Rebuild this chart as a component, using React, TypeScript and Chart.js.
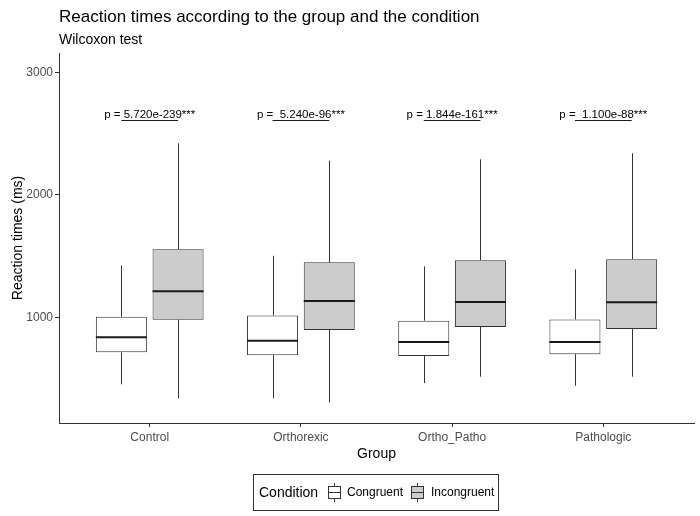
import React, { useEffect, useRef } from 'react';
import { Chart, registerables } from 'chart.js';
Chart.register(...registerables);

const groups = ['Control', 'Orthorexic', 'Ortho_Patho', 'Pathologic'];
const conditions = ['Congruent', 'Incongruent'];

const congruentMin = [457, 343, 467, 446];
const congruentQ1 = [718, 695, 688, 703];
const congruentMedian = [840, 812, 802, 802];
const congruentQ3 = [1008, 1018, 976, 986];
const congruentMax = [1426, 1505, 1418, 1393];

const incongruentMin = [343, 310, 519, 519];
const incongruentQ1 = [984, 900, 924, 907];
const incongruentMedian = [1215, 1136, 1128, 1125];
const incongruentQ3 = [1557, 1451, 1468, 1476];
const incongruentMax = [2421, 2280, 2291, 2340];

const pValues = ['5.720e-239', ' 5.240e-96', '1.844e-161', ' 1.100e-88'];
const pStars = ['***', '***', '***', '***'];
const pBracketY = 2611;

const yTicks = [1000, 2000, 3000];
const yMin = 142;
const yMax = 3157;

const titleText = 'Reaction times according to the group and the condition';
const subtitleText = 'Wilcoxon test';

const FONT = "'Liberation Sans', Arial, sans-serif";
const fillColors = ['#ffffff', '#cccccc'];
const stats = [
  { min: congruentMin, q1: congruentQ1, med: congruentMedian, q3: congruentQ3, max: congruentMax },
  { min: incongruentMin, q1: incongruentQ1, med: incongruentMedian, q3: incongruentQ3, max: incongruentMax },
];

const boxPlugin = {
  id: 'boxExtras',
  afterDatasetsDraw(chart: any) {
    const ctx = chart.ctx;
    const y = chart.scales.y;
    ctx.save();
    stats.forEach((s, di) => {
      const meta = chart.getDatasetMeta(di);
      meta.data.forEach((el: any, j: number) => {
        const x = Math.round(el.x) + 0.5;
        const w = el.width;
        ctx.strokeStyle = '#333333';
        ctx.lineWidth = 1;
        ctx.beginPath();
        ctx.moveTo(x, y.getPixelForValue(s.q3[j]));
        ctx.lineTo(x, y.getPixelForValue(s.max[j]));
        ctx.moveTo(x, y.getPixelForValue(s.q1[j]));
        ctx.lineTo(x, y.getPixelForValue(s.min[j]));
        ctx.stroke();
        ctx.strokeStyle = '#1a1a1a';
        ctx.lineWidth = 2;
        ctx.beginPath();
        const my = y.getPixelForValue(s.med[j]);
        ctx.moveTo(el.x - w / 2, my);
        ctx.lineTo(el.x + w / 2, my);
        ctx.stroke();
      });
    });
    // p-value brackets
    const m0 = chart.getDatasetMeta(0);
    const m1 = chart.getDatasetMeta(1);
    groups.forEach((g, j) => {
      const x1 = m0.data[j].x;
      const x2 = m1.data[j].x;
      const by = Math.round(y.getPixelForValue(pBracketY)) + 0.5;
      ctx.strokeStyle = '#1a1a1a';
      ctx.lineWidth = 1;
      ctx.beginPath();
      ctx.moveTo(x1, by);
      ctx.lineTo(x2, by);
      ctx.stroke();
      ctx.fillStyle = '#000000';
      ctx.font = `11.5px ${FONT}`;
      ctx.textAlign = 'center';
      ctx.textBaseline = 'alphabetic';
      ctx.fillText(`p = ${pValues[j]}${pStars[j]}`, (x1 + x2) / 2, by - 3);
    });
    ctx.restore();
  },
  afterDraw(chart: any) {
    const ctx = chart.ctx;
    ctx.save();
    ctx.fillStyle = '#000000';
    ctx.textAlign = 'left';
    ctx.textBaseline = 'middle';
    ctx.font = `17px ${FONT}`;
    ctx.fillText(titleText, 59, 17);
    ctx.font = `14px ${FONT}`;
    ctx.fillText(subtitleText, 59, 40);

    // legend
    const lx = 253, ly = 474, lw = 245, lh = 36;
    ctx.strokeStyle = '#333333';
    ctx.lineWidth = 1;
    ctx.strokeRect(lx + 0.5, ly + 0.5, lw, lh);
    const cy = ly + lh / 2 + 1;
    ctx.font = `14px ${FONT}`;
    ctx.fillStyle = '#000000';
    ctx.fillText('Condition', 259, cy);
    const icons = [328, 411];
    const labelsX = [347, 431];
    conditions.forEach((c, i) => {
      const ix = icons[i];
      const icx = ix + 6.5;
      ctx.strokeStyle = '#333333';
      ctx.lineWidth = 1;
      ctx.beginPath();
      ctx.moveTo(icx, cy - 10);
      ctx.lineTo(icx, cy + 9);
      ctx.stroke();
      ctx.fillStyle = fillColors[i];
      ctx.fillRect(ix + 0.5, cy - 6.5, 12, 12);
      ctx.strokeRect(ix + 0.5, cy - 6.5, 12, 12);
      ctx.beginPath();
      ctx.moveTo(ix + 0.5, cy - 0.5);
      ctx.lineTo(ix + 12.5, cy - 0.5);
      ctx.stroke();
      ctx.fillStyle = '#000000';
      ctx.font = `12px ${FONT}`;
      ctx.fillText(c, labelsX[i], cy);
    });
    ctx.restore();
  },
};

export default function App() {
  const ref = useRef<HTMLCanvasElement>(null);
  useEffect(() => {
    const canvas = ref.current!;
    const chart = new Chart(canvas, {
      type: 'bar',
      data: {
        labels: groups,
        datasets: stats.map((s, i) => ({
          label: conditions[i],
          data: s.q1.map((q, j) => [q, s.q3[j]]),
          backgroundColor: fillColors[i],
          borderColor: '#333333',
          borderWidth: 1,
          borderSkipped: false,
          categoryPercentage: 0.75,
          barPercentage: 0.9,
        })),
      },
      options: {
        responsive: false,
        animation: false,
        devicePixelRatio: 1,
        layout: { padding: { top: 53, right: 6, bottom: 53, left: 0 } },
        plugins: {
          legend: { display: false },
          tooltip: { enabled: false },
          title: { display: false },
        },
        scales: {
          x: {
            type: 'category',
            offset: true,
            grid: { display: true, drawOnChartArea: false, drawTicks: true, tickLength: 4, color: '#333333', offset: false },
            border: { display: true, color: '#333333', width: 1 },
            ticks: { font: { family: FONT, size: 12 }, color: '#4d4d4d', padding: 3, maxRotation: 0 },
            title: { display: true, text: 'Group', font: { family: FONT, size: 14 }, color: '#000000', padding: { top: 0, bottom: 0 } },
            afterBuildTicks: (s: any) => {
              s._startValue = -0.6;
              s._valueRange = 4.2;
            },
            afterFit: (s: any) => { s.height = 40; },
          },
          y: {
            type: 'linear',
            min: yMin,
            max: yMax,
            grid: { display: true, drawOnChartArea: false, drawTicks: true, tickLength: 4, color: '#333333' },
            border: { display: true, color: '#333333', width: 1 },
            ticks: { font: { family: FONT, size: 12 }, color: '#4d4d4d', padding: 2, callback: (v: any) => String(v) },
            title: { display: true, text: 'Reaction times (ms)', font: { family: FONT, size: 14 }, color: '#000000', padding: { top: 10, bottom: 0 } },
            afterBuildTicks: (s: any) => { s.ticks = yTicks.map((v) => ({ value: v })); },
            afterFit: (s: any) => { s.width = 59; },
          },
        },
      },
      plugins: [boxPlugin],
    } as any);
    return () => chart.destroy();
  }, []);
  return (
    <div style={{ position: 'absolute', left: 0, top: 0, width: 700, height: 516, background: '#ffffff' }}>
      <canvas ref={ref} width={700} height={516} />
    </div>
  );
}
